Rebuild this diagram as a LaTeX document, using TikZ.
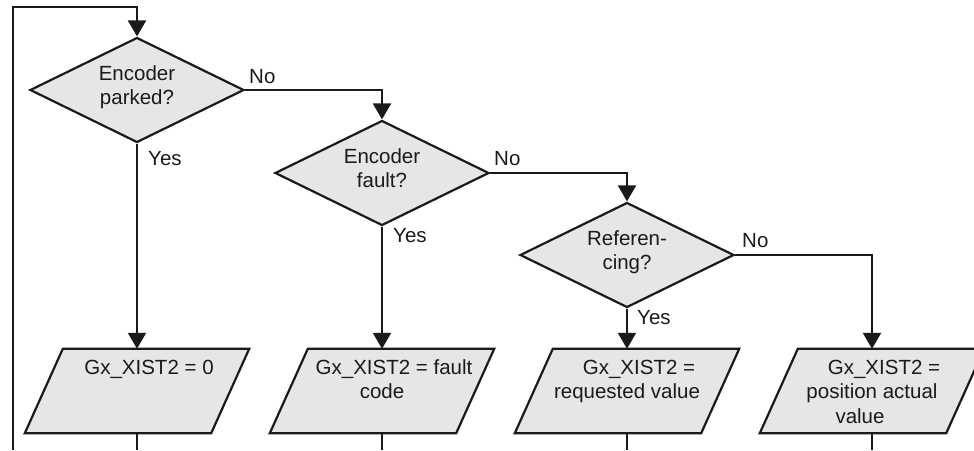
\documentclass[tikz,border=0pt]{standalone}
\usepackage{fontspec}
\setmainfont{Liberation Sans}
\usetikzlibrary{shapes.geometric,arrows.meta}
\definecolor{shapefill}{HTML}{E6E6E6}
\definecolor{ink}{HTML}{1A1A1A}
\newcommand{\ptxt}[1]{\parbox[c][84pt][t]{224pt}{\centering\rule{0pt}{25pt}#1}}
\newcommand{\sh}{\rule{24pt}{0pt}}
\begin{document}
\begin{tikzpicture}[x=1pt,y=-1pt,
  font=\fontsize{20.5}{24.5}\selectfont,
  every node/.style={text=ink},
  decision/.style={shape=diamond, draw=ink, fill=shapefill, line width=2.2pt,
    minimum width=214pt, minimum height=105pt, aspect=2.04, inner sep=0pt,
    align=center, text depth=10pt},
  iobox/.style={shape=rectangle, minimum width=224pt, minimum height=84pt, inner sep=0pt},
  paraline/.style={draw=ink, fill=shapefill, line width=2.2pt, line join=miter},
  flow/.style={draw=ink, line width=2.2pt, -{Triangle[length=16pt,width=18pt]}},
  plain/.style={draw=ink, line width=2.2pt},
  lab/.style={inner sep=0pt, anchor=base west}]
\useasboundingbox (0,0) rectangle (974,450);

% decisions
\node[decision] (d1) at (137,90) {Encoder\\parked?};
\node[decision] (d2) at (382,173) {Encoder\\fault?};
\node[decision] (d3) at (627,255) {Referen-\\cing?};

% parallelograms (text nodes; outlines drawn from anchors)
\node[iobox] (p1) at (137,391) {};
\node[iobox] (p2) at (382,391) {};
\node[iobox] (p3) at (627,391) {};
\node[iobox] (p4) at (872,391) {};
\foreach \p in {p1,p2,p3,p4}{
  \path[paraline] ([xshift=38pt]\p.north west) -- (\p.north east)
    -- ([xshift=-38pt]\p.south east) -- (\p.south west) -- cycle;
}
\node[iobox] at (p1) {\ptxt{\sh Gx\_XIST2 = 0}};
\node[iobox] at (p2) {\ptxt{\sh Gx\_XIST2 = fault\\code}};
\node[iobox] at (p3) {\ptxt{\sh Gx\_XIST2 =\\requested value}};
\node[iobox] at (p4) {\ptxt{\sh Gx\_XIST2 =\\position actual\\value\sh}};

% labels
\node[lab] (no1) at (249,83) {No};
\node[lab] (yes1) at (148,165) {Yes};
\node[lab] (no2) at (494,165) {No};
\node[lab] (yes2) at (393,242) {Yes};
\node[lab] (no3) at (742,247) {No};
\node[lab] (yes3) at (637,324) {Yes};

% coordinates
\coordinate (loopbot) at (13,450);
\coordinate (looptop) at (137,7);
\coordinate (b1) at (137,450);
\coordinate (b2) at (382,450);
\coordinate (b3) at (627,450);
\coordinate (b4) at (872,450);

% connectors
\draw[flow] (loopbot) |- (looptop) -- (d1.north);
\draw[flow] (d1.east) -| (d2.north);
\draw[flow] (d1.south) -- (p1.north);
\draw[flow] (d2.east) -| (d3.north);
\draw[flow] (d2.south) -- (p2.north);
\draw[flow] (d3.east) -| (p4.north);
\draw[flow] (d3.south) -- (p3.north);
\draw[plain] (p1.south) -- (b1);
\draw[plain] (p2.south) -- (b2);
\draw[plain] (p3.south) -- (b3);
\draw[plain] (p4.south) -- (b4);
\end{tikzpicture}
\end{document}
